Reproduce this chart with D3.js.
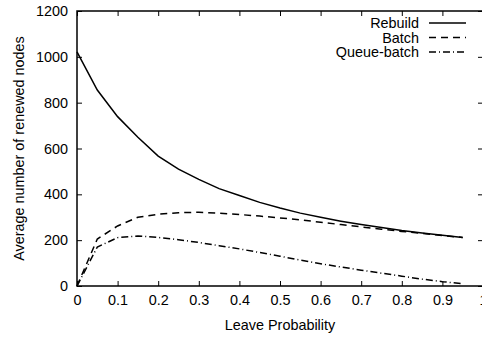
<!DOCTYPE html>
<html>
<head>
<meta charset="utf-8">
<script src="https://cdn.jsdelivr.net/npm/d3@7"></script>
<style>
  body { margin: 0; background: #fff; }
  svg text { font-family: "Liberation Sans", Arial, sans-serif; font-size: 14.4px; fill: #000; }
</style>
</head>
<body>
<svg id="chart" width="482" height="337"></svg>
<script>
var leaveProb = [0, 0.05, 0.1, 0.15, 0.2, 0.25, 0.3, 0.35, 0.4, 0.45, 0.5, 0.55, 0.6, 0.65, 0.7, 0.75, 0.8, 0.85, 0.9, 0.95];
var rebuild = [1022, 855, 739, 649, 567, 510, 465, 425, 395, 365, 340, 318, 300, 283, 268, 255, 242, 231, 221, 212];
var batch = [0, 205, 262, 300, 313, 320, 322, 318, 312, 305, 297, 289, 278, 268, 258, 248, 238, 230, 220, 212];
var queueBatch = [0, 170, 211, 218, 212, 202, 190, 176, 162, 146, 130, 113, 97, 83, 69, 56, 43, 30, 19, 10];
var xTicks = [0, 0.1, 0.2, 0.3, 0.4, 0.5, 0.6, 0.7, 0.8, 0.9, 1];
var yTicks = [0, 200, 400, 600, 800, 1000, 1200];

var series = [
    { name: 'Rebuild', values: rebuild, dash: null },
    { name: 'Batch', values: batch, dash: '7,5' },
    { name: 'Queue-batch', values: queueBatch, dash: '7,3,1,3' }
];

var svg = d3.select('#chart');
var mLeft = 77, mRight = 483, mTop = 11, mBottom = 286;
var fontSize = '14.4px';

var x = d3.scaleLinear().domain([0, 1]).range([mLeft, mRight]);
var y = d3.scaleLinear().domain([0, 1200]).range([mBottom, mTop]);

// border: left, bottom, top (right edge falls just outside the window)
svg.append('path')
    .attr('d', 'M' + mRight + ',' + mTop + 'H' + mLeft + 'V' + mBottom + 'H' + mRight + 'V' + mTop)
    .attr('fill', 'none').attr('stroke', '#000').attr('stroke-width', 1.5);

// ticks on all four sides, pointing inward
var xAxisB = d3.axisBottom(x).tickValues(xTicks).tickSize(-5).tickPadding(9)
    .tickFormat(function (d) { return d === 0 || d === 1 ? d3.format('d')(d) : d3.format('.1f')(d); });
var gB = svg.append('g').attr('transform', 'translate(0,' + mBottom + ')').call(xAxisB);
var xAxisT = d3.axisTop(x).tickValues(xTicks).tickSize(-5).tickFormat('');
var gT = svg.append('g').attr('transform', 'translate(0,' + mTop + ')').call(xAxisT);
var yAxisL = d3.axisLeft(y).tickValues(yTicks).tickSize(-5).tickPadding(9).tickFormat(d3.format('d'));
var gL = svg.append('g').attr('transform', 'translate(' + mLeft + ',0)').call(yAxisL);
var yAxisR = d3.axisRight(y).tickValues(yTicks).tickSize(-5).tickFormat('');
var gR = svg.append('g').attr('transform', 'translate(' + mRight + ',0)').call(yAxisR);

[gB, gT, gL, gR].forEach(function (g) {
    g.select('.domain').remove();
    g.selectAll('line').attr('stroke', '#000').attr('stroke-width', 1);
    g.selectAll('text')
        .style('font-family', '"Liberation Sans", Arial, sans-serif')
        .style('font-size', fontSize)
        .attr('fill', '#000');
});

var line = d3.line()
    .x(function (d, i) { return x(leaveProb[i]); })
    .y(function (d) { return y(d); });

series.forEach(function (s) {
    svg.append('path')
        .datum(s.values)
        .attr('d', line)
        .attr('fill', 'none')
        .attr('stroke', '#000')
        .attr('stroke-width', 1.5)
        .attr('stroke-dasharray', s.dash);
});

// legend
var legend = svg.append('g');
series.forEach(function (s, i) {
    var ly = 23 + i * 14.5;
    legend.append('text')
        .attr('x', 419).attr('y', ly + 5)
        .attr('text-anchor', 'end')
        .text(s.name);
    legend.append('line')
        .attr('x1', 429).attr('x2', 466)
        .attr('y1', ly).attr('y2', ly)
        .attr('stroke', '#000').attr('stroke-width', 1.5)
        .attr('stroke-dasharray', s.dash);
});

// axis titles
svg.append('text')
    .attr('x', (mLeft + mRight) / 2).attr('y', 330)
    .attr('text-anchor', 'middle')
    .text('Leave Probability');
svg.append('text')
    .attr('transform', 'translate(24,' + ((mTop + mBottom) / 2) + ') rotate(-90)')
    .attr('text-anchor', 'middle')
    .text('Average number of renewed nodes');
</script>
</body>
</html>
